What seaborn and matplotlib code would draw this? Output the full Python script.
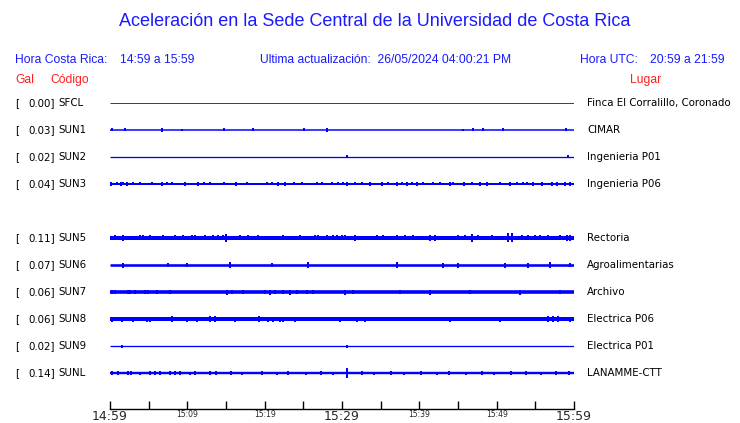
import matplotlib
matplotlib.use("Agg")
import matplotlib.pyplot as plt
import seaborn as sns
import pandas as pd

# ---------------- data ----------------
codes = ["SFCL", "SUN1", "SUN2", "SUN3", "SUN5", "SUN6", "SUN7", "SUN8", "SUN9", "SUNL"]
gal = ["0.00", "0.03", "0.02", "0.04", "0.11", "0.07", "0.06", "0.06", "0.02", "0.14"]
places = ["Finca El Corralillo, Coronado", "CIMAR", "Ingenieria P01", "Ingenieria P06",
          "Rectoria", "Agroalimentarias", "Archivo", "Electrica P06", "Electrica P01",
          "LANAMME-CTT"]
rows = [0, 1, 2, 3, 5, 6, 7, 8, 9, 10]          # SUN4 slot is empty
trace_colors = ["#e00000"] + ["#0000ff"] * 9
base_width_px = [1.0, 1.5, 1.3, 2.0, 4.0, 2.6, 3.6, 4.0, 1.3, 2.4]

# spike times (minutes after 14:59) and half amplitudes (px)
spike_t = {
    "SFCL": [],
    "SUN1": [0.3, 1.9, 6.7, 9.3, 14.7, 18.5, 25.1, 28.1, 45.6, 46.9, 48.2, 50.8, 59.0],
    "SUN2": [30.6, 59.2],
    "SUN3": [0.13, 0.91, 1.42, 1.68, 2.2, 2.97, 3.88, 5.43, 6.72, 7.37, 8.02, 9.7, 11.38,
             12.16, 12.93, 14.74, 16.29, 17.72, 20.3, 20.95, 21.72, 22.63, 23.79, 24.83,
             26.77, 27.41, 28.71, 29.48, 30.13, 30.65, 31.68, 32.59, 33.62, 35.17, 35.95,
             37.11, 37.76, 38.41, 39.05, 39.7, 40.47, 41.77, 42.67, 43.97, 44.35, 45.78,
             46.81, 47.84, 48.75, 50.43, 51.72, 52.63, 53.4, 53.92, 54.7, 55.86, 57.16,
             57.8, 58.84, 59.48],
    "SUN5": [0.65, 1.68, 3.88, 4.27, 5.17, 6.85, 8.41, 9.44, 10.6, 10.99, 12.29, 13.32,
             13.97, 14.61, 15.0, 16.81, 17.84, 19.14, 22.37, 24.57, 26.51, 26.9, 28.06,
             28.84, 29.35, 30.0, 30.39, 31.68, 34.53, 35.3, 37.11, 38.15, 39.18, 41.38,
             42.03, 45.0, 45.91, 46.81, 47.59, 49.4, 51.47, 51.98, 53.28, 54.05, 54.96,
             55.6, 56.64, 58.19, 59.09, 59.48],
    "SUN6": [1.68, 7.5, 9.96, 15.52, 20.95, 25.6, 37.11, 43.06, 45.0, 51.08, 54.05, 56.9, 59.48],
    "SUN7": [0.26, 0.65, 2.33, 2.59, 3.23, 4.53, 4.91, 6.08, 7.76, 15.13, 15.78, 17.2, 20.04,
             20.69, 21.34, 22.37, 23.28, 24.18, 25.47, 26.25, 30.39, 31.42, 37.5, 41.38,
             46.55, 53.02, 58.19],
    "SUN8": [0.26, 1.55, 2.97, 4.78, 5.17, 8.02, 9.96, 11.25, 12.93, 13.58, 16.16, 19.27,
             20.43, 21.08, 21.98, 22.37, 23.92, 29.74, 31.94, 32.97, 43.97, 50.43, 56.64,
             57.29, 57.93, 59.48],
    "SUN9": [1.55, 30.65],
    "SUNL": [0.26, 1.03, 2.33, 2.72, 3.88, 5.17, 5.82, 6.47, 7.76, 8.41, 9.05, 10.34, 10.99,
             12.93, 13.71, 15.65, 17.07, 19.66, 21.59, 23.02, 25.34, 27.28, 28.84, 30.65,
             32.59, 34.14, 36.34, 38.02, 40.22, 42.28, 43.84, 46.03, 48.1, 49.66, 51.85,
             53.79, 55.73, 57.67, 59.35],
}
spike_h = {
    "SFCL": [],
    "SUN1": [1.5, 1.5, 2, 1, 1.5, 1.5, 1.5, 2, 1, 1.5, 1.5, 1.5, 1.5],
    "SUN2": [1.5, 1.5],
    "SUN3": [2, 1.5, 2, 1.5, 2, 1.5, 1.5, 1.5, 2, 1.5, 1.5, 2, 2, 1.5, 1.5, 1.5, 2, 1.5,
             1.5, 1.5, 2, 2, 1.5, 1.5, 1.5, 1.5, 1.5, 1.5, 1.5, 2, 1.5, 1.5, 2, 2, 1.5, 2,
             1.5, 2, 1.5, 2, 1.5, 1.5, 1.5, 2, 1.5, 2, 1.5, 2, 2, 1.5, 2, 1.5, 1.5, 1.5, 2,
             2, 2, 2, 2, 2],
    "SUN5": [2.5, 3, 2.5, 2.5, 2.5, 2.5, 2.5, 2.5, 2.5, 2.5, 2.5, 2.5, 2.5, 2.5, 4, 2.5,
             2.5, 2.5, 2.5, 2.5, 2.5, 2.5, 2.5, 2.5, 2.5, 2.5, 2.5, 3, 2.5, 2.5, 2.5, 2.5,
             2.5, 3, 3, 2.5, 2.5, 4, 2.5, 2.5, 4.5, 4.5, 2.5, 2.5, 2.5, 2.5, 2.5, 2.5, 3, 3],
    "SUN6": [2.5, 2, 2, 3, 2, 3, 3, 2.5, 2.5, 2.5, 2.5, 3, 2],
    "SUN7": [2, 2, 2, 2, 2, 2, 2, 2, 2, 2.5, 2, 2, 2, 2.5, 2, 2, 2.5, 2, 2, 2, 2.5, 2, 2,
             2.5, 2, 2.5, 2],
    "SUN8": [2.5, 2.5, 2.5, 2.5, 2.5, 3, 2.5, 2.5, 3, 3, 2.5, 3, 2.5, 2.5, 2.5, 2.5, 2.5,
             2.5, 2.5, 2.5, 2.5, 2.5, 3, 3, 3, 2.5],
    "SUN9": [1.5, 1.5],
    "SUNL": [2, 2, 2, 2, 1.5, 2, 2, 2, 2, 2, 2, 1.5, 2, 2, 2, 2, 1.5, 2, 1.5, 2, 1.5, 2,
             1.5, 5, 2, 1.5, 2, 1.5, 2, 1.5, 2, 1.5, 2, 1.5, 2, 2, 1.5, 2, 2],
}

tick_min = [0, 5, 10, 15, 20, 25, 30, 35, 40, 45, 50, 55, 60]
tick_labels = ["14:59", "", "15:09", "", "15:19", "", "15:29", "", "15:39", "", "15:49", "", "15:59"]
big_ticks = ["14:59", "15:29", "15:59"]

title = "Aceleración en la Sede Central de la Universidad de Costa Rica"

# ---------------- figure ----------------
sns.set_style("white")
plt.rcParams["font.family"] = ["DejaVu Sans"]

W, H = 740, 423
fig = plt.figure(figsize=(W / 100, H / 100), dpi=100)
fig.patch.set_facecolor("white")

px_row = 27.0
ax_left, ax_right = 110, 574
ax_top, ax_bot = 90, 409
y_top = (ax_top - 103) / px_row
y_bot = (ax_bot - 103) / px_row
ax = fig.add_axes([ax_left / W, 1 - ax_bot / H, (ax_right - ax_left) / W, (ax_bot - ax_top) / H])
ax.set_facecolor("white")

PT = 0.72  # points per pixel at 100 dpi
for code, r, c, bw in zip(codes, rows, trace_colors, base_width_px):
    base = pd.DataFrame({"t": [0, 60], "y": [r, r]})
    sns.lineplot(data=base, x="t", y="y", ax=ax, color=c, linewidth=bw * PT,
                 solid_capstyle="butt")
    ts = spike_t[code]
    hs = spike_h[code]
    if ts:
        ax.vlines(ts, [r - h / px_row for h in hs], [r + h / px_row for h in hs],
                  color=c, linewidth=2.0 * PT)

ax.set_xlim(0, 60)
ax.set_ylim(y_bot, y_top)
ax.set_xlabel("")
ax.set_ylabel("")
ax.set_yticks([])
for s in ["left", "right", "top"]:
    ax.spines[s].set_visible(False)
ax.spines["bottom"].set_color("black")
ax.spines["bottom"].set_linewidth(1.0)
ax.set_xticks(tick_min)
ax.set_xticklabels(tick_labels)
ax.tick_params(axis="x", direction="in", length=8 * PT, width=1.0, color="black",
               pad=0.8, bottom=True)
for lab in ax.get_xticklabels():
    if lab.get_text() in big_ticks:
        lab.set_fontsize(9)
    else:
        lab.set_fontsize(5.5)

# ---------------- texts ----------------
def ftext(x, y, s, **kw):
    fig.text(x / W, 1 - y / H, s, va="center", **kw)

hdr = dict(family="Liberation Sans", fontsize=8.7, color="#1a1aff")
ftext(375, 22, title, ha="center", family="Liberation Sans", fontsize=13, color="#1a1aff")
ftext(15, 60, "Hora Costa Rica:", **hdr)
ftext(120, 60, "14:59 a 15:59", **hdr)
ftext(260, 60, "Ultima actualización:  26/05/2024 04:00:21 PM", **hdr)
ftext(580, 60, "Hora UTC:", **hdr)
ftext(650, 60, "20:59 a 21:59", **hdr)

red = dict(family="Liberation Sans", fontsize=8.7, color="#ff2020")
ftext(15, 80, "Gal", **red)
ftext(50, 80, "Código", **red)
ftext(630, 80, "Lugar", **red)

lab = dict(family="DejaVu Sans", fontsize=7.4, color="black")
for r, g, code, place in zip(rows, gal, codes, places):
    y = 103 + r * px_row
    ftext(15, y, "[", **lab)
    ftext(55, y, g + "]", ha="right", **lab)
    ftext(58, y, code, **lab)
    ftext(587, y, place, **lab)

fig.savefig("out.png", dpi=100, facecolor="white")
